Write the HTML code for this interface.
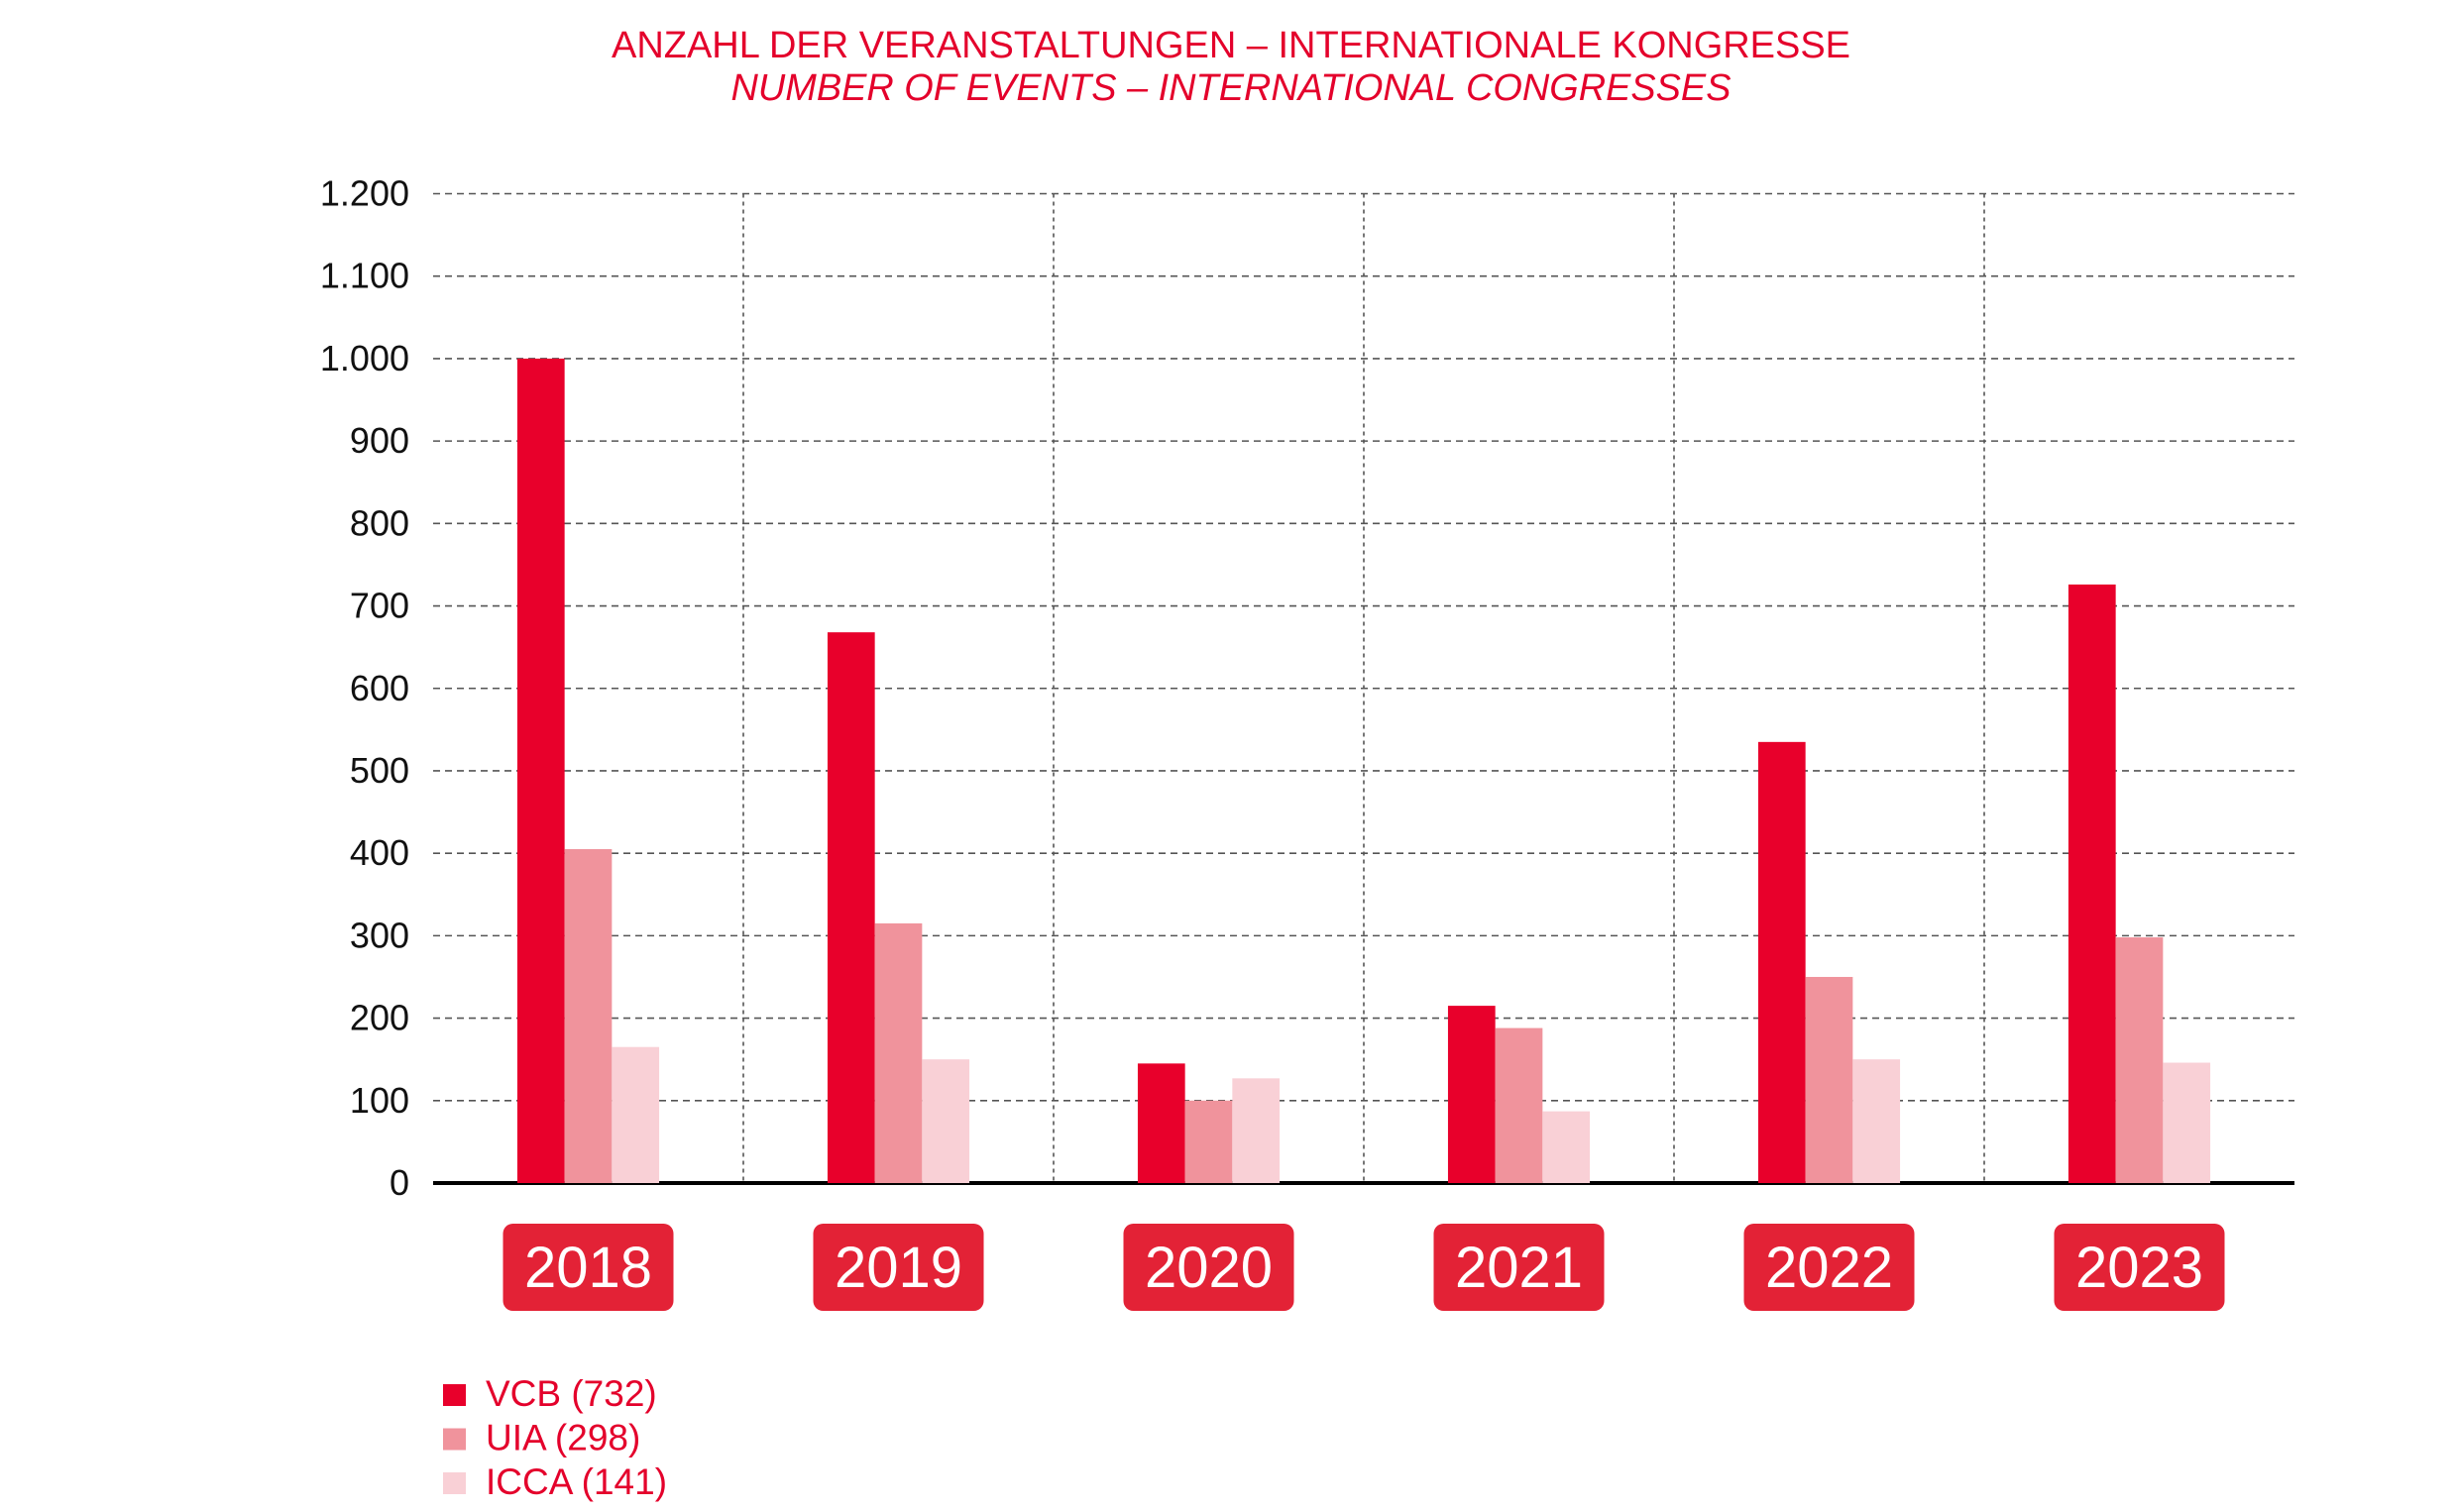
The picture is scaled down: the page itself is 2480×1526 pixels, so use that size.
<!DOCTYPE html>
<html><head><meta charset="utf-8"><style>
html,body{margin:0;padding:0;background:#fff;}
svg{display:block;font-family:"Liberation Sans",sans-serif;}
</style></head><body>
<svg id="chart" width="2480" height="1526" viewBox="0 0 2480 1526" xmlns="http://www.w3.org/2000/svg">
<text x="1242" y="58" text-anchor="middle" font-size="38" fill="#e4002b" textLength="1250" lengthAdjust="spacingAndGlyphs">ANZAHL DER VERANSTALTUNGEN – INTERNATIONALE KONGRESSE</text>
<text x="1242" y="101" text-anchor="middle" font-size="38" font-style="italic" fill="#e4002b" textLength="1009" lengthAdjust="spacingAndGlyphs">NUMBER OF EVENTS – INTERNATIONAL CONGRESSES</text>
<g id="grid"></g>
<g id="bars"></g>
<g id="labels"></g>
<g id="legend"></g>
</svg>
<script>
const years = ["2018","2019","2020","2021","2022","2023"];
const vcb = [1000, 668, 145, 215, 535, 726];
const uia = [405, 315, 100, 188, 250, 298];
const icca = [165, 150, 127, 87, 150, 146];
const yTicks = [0,100,200,300,400,500,600,700,800,900,1000,1100,1200];
const yTickLabels = ["0","100","200","300","400","500","600","700","800","900","1.000","1.100","1.200"];
const legendLabels = ["VCB  (732)","UIA  (298)","ICCA  (141)"];

const NS="http://www.w3.org/2000/svg";
const X0=437, X1=2315, Y0=1194, YTOP=195.5, YMAX=1200;
const groupW=(X1-X0)/years.length;
const barW=47.7;
function y(v){return Y0-(v/YMAX)*(Y0-YTOP);}
function gx(i){return X0+groupW*i;}
function mk(tag,attrs,parent){const e=document.createElementNS(NS,tag);for(const k in attrs)e.setAttribute(k,attrs[k]);parent.appendChild(e);return e;}
const grid=document.getElementById('grid'),bars=document.getElementById('bars'),labels=document.getElementById('labels'),legend=document.getElementById('legend');

yTicks.forEach((t,i)=>{
  if(t>0){
    const l=mk('line',{x1:X0,x2:X1,y1:y(t),y2:y(t),stroke:'#555','stroke-width':1.6,'stroke-dasharray':'7 5'},grid);
    
    
  }
  const tx=mk('text',{x:413,y:y(t)+12,'text-anchor':'end','font-size':36,fill:'#111'},grid);
  tx.textContent=yTickLabels[i];
  
  
});
for(let i=1;i<years.length;i++){
  const l=mk('line',{x1:gx(i),x2:gx(i),y1:YTOP,y2:Y0,stroke:'#555','stroke-width':1.6,'stroke-dasharray':'4 4'},grid);
  
  
}
const series=[[vcb,'#e8002b','vcb'],[uia,'#f0939c','uia'],[icca,'#f9d0d6','icca']];
years.forEach((yr,i)=>{
  const c=gx(i)+groupW/2;
  series.forEach((s,j)=>{
    const v=s[0][i];
    const r=mk('rect',{x:c-1.5*barW+j*barW,y:y(v),width:barW,height:Y0-y(v),fill:s[1]},bars);
    
    
  });
  const bx=mk('rect',{x:c-86,y:1235,width:172,height:88,rx:10,fill:'#e32236'},labels);
  
  
  const t=mk('text',{x:c,y:1299,'text-anchor':'middle','font-size':58,fill:'#fff'},labels);
  t.textContent=yr;
  
  
});
const ax=mk('line',{x1:X0,x2:X1,y1:Y0,y2:Y0,stroke:'#000','stroke-width':4},grid);


legendLabels.forEach((lab,i)=>{
  const yy=1397+i*44.5;
  const s=mk('rect',{x:447,y:yy,width:23,height:22,fill:series[i][1]},legend);
  
  
  const t=mk('text',{x:490,y:yy+22,'font-size':37,fill:'#e4002b'},legend);
  t.textContent=lab;
  
  
});
</script>
</body></html>
